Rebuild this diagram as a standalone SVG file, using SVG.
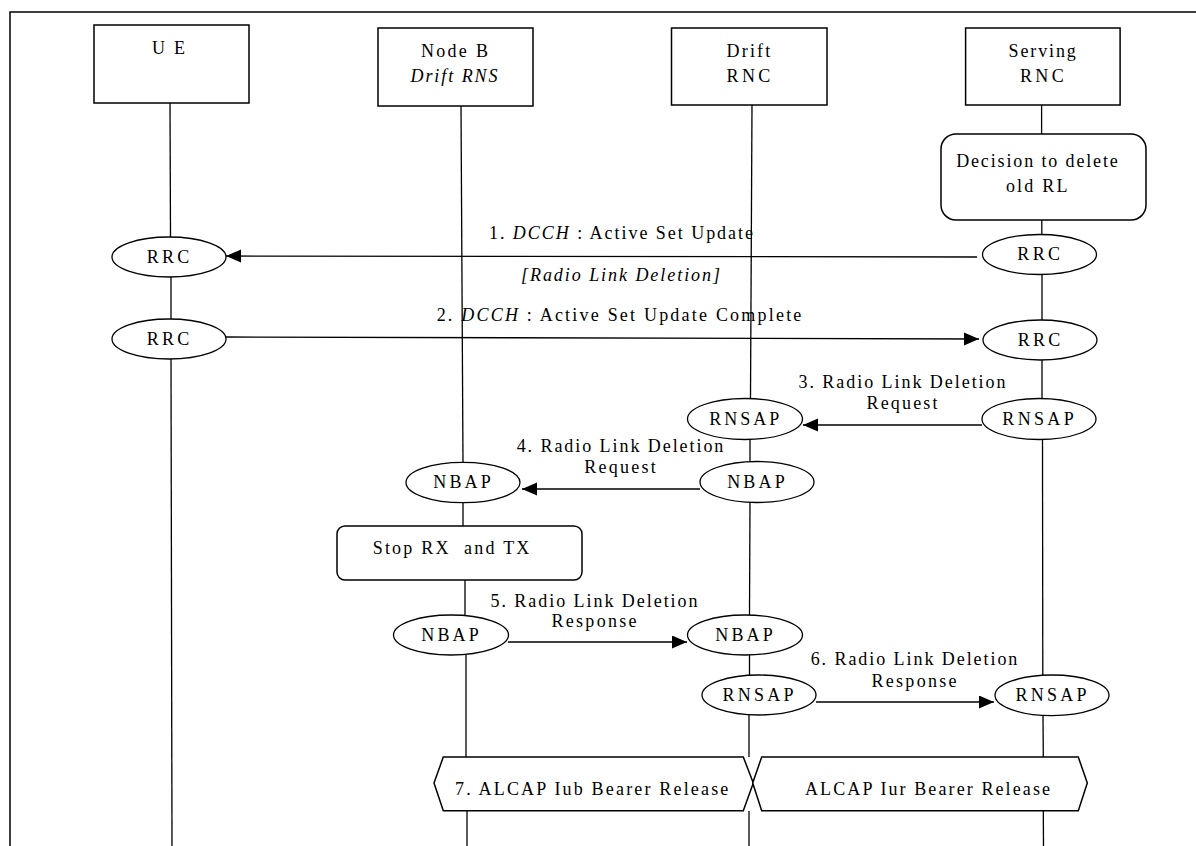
<svg xmlns="http://www.w3.org/2000/svg" width="1196" height="846" viewBox="0 0 1196 846">
<style>
  .bg { fill: #ffffff; }
  .box { fill: #ffffff; stroke: #000; stroke-width: 1.5; }
  .ell { fill: #ffffff; stroke: #000; stroke-width: 1.3; }
  .life { stroke: #000; stroke-width: 1.3; fill: none; }
  .msg { stroke: #000; stroke-width: 1.3; fill: none; marker-end: url(#ah); }
  .frame { stroke: #000; stroke-width: 1.5; fill: none; }
  text { font-family: "Liberation Serif", "Times New Roman", serif; font-size: 18px; fill: #000; text-anchor: middle; }
  .it { font-style: italic; }
</style>
<defs>
  <marker id="ah" markerUnits="userSpaceOnUse" markerWidth="16" markerHeight="14" refX="15" refY="6.5" orient="auto">
    <path d="M0,0 L15,6.5 L0,13 z" fill="#000"/>
  </marker>
</defs>
<rect class="bg" x="0" y="0" width="1196" height="846"/>
<polyline class="frame" points="10,846 10,12 1196,12"/>

<g id="lifelines">
  <line class="life" x1="170" y1="103" x2="170.5" y2="237"/>
  <line class="life" x1="171" y1="277" x2="171" y2="319"/>
  <line class="life" x1="171" y1="359" x2="172" y2="846"/>

  <line class="life" x1="461" y1="106" x2="463" y2="462"/>
  <line class="life" x1="463" y1="503" x2="463" y2="526"/>
  <line class="life" x1="465" y1="580" x2="465" y2="615"/>
  <line class="life" x1="466" y1="655" x2="466" y2="757"/>
  <line class="life" x1="467" y1="811" x2="467" y2="846"/>

  <line class="life" x1="752" y1="105" x2="750.5" y2="398"/>
  <line class="life" x1="750" y1="439" x2="750" y2="462"/>
  <line class="life" x1="750" y1="502" x2="749.5" y2="615"/>
  <line class="life" x1="749.5" y1="655" x2="749.5" y2="675"/>
  <line class="life" x1="749" y1="715" x2="749" y2="757"/>
  <line class="life" x1="749" y1="811" x2="749" y2="846"/>

  <line class="life" x1="1041.6" y1="105" x2="1041.6" y2="134"/>
  <line class="life" x1="1041.8" y1="220" x2="1041.8" y2="234.5"/>
  <line class="life" x1="1042" y1="274" x2="1042" y2="320"/>
  <line class="life" x1="1042" y1="360" x2="1042" y2="398.5"/>
  <line class="life" x1="1042.5" y1="439" x2="1042.8" y2="675"/>
  <line class="life" x1="1043" y1="715.5" x2="1043.3" y2="757"/>
  <line class="life" x1="1043.3" y1="811" x2="1043.5" y2="846"/>
</g>

<g id="connectors">
  <line class="msg" x1="977" y1="257" x2="226" y2="256"/>
  <line class="msg" x1="226" y1="337" x2="979" y2="339"/>
  <line class="msg" x1="982" y1="425" x2="803" y2="425"/>
  <line class="msg" x1="700" y1="489" x2="522" y2="489"/>
  <line class="msg" x1="508" y1="642" x2="687" y2="642"/>
  <line class="msg" x1="816" y1="702" x2="994" y2="702"/>
</g>

<g id="labels">
  <text x="621" y="239" textLength="264" lengthAdjust="spacing">1. <tspan class="it">DCCH</tspan> : Active Set Update</text>
  <text class="it" x="620.5" y="280.5" textLength="199" lengthAdjust="spacing">[Radio Link Deletion]</text>
  <text x="619" y="321" textLength="364.7" lengthAdjust="spacing">2. <tspan class="it">DCCH</tspan> : Active Set Update Complete</text>
  <text x="902" y="387.7" textLength="207" lengthAdjust="spacing">3. Radio Link Deletion</text>
  <text x="902" y="409.3" textLength="71" lengthAdjust="spacing">Request</text>
  <text x="620" y="452.3" textLength="206.7" lengthAdjust="spacing">4. Radio Link Deletion</text>
  <text x="620" y="473.3" textLength="71.3" lengthAdjust="spacing">Request</text>
  <text x="594" y="606.5" textLength="207" lengthAdjust="spacing">5. Radio Link Deletion</text>
  <text x="594" y="626.7" textLength="85" lengthAdjust="spacing">Response</text>
  <text x="914" y="665" textLength="206.7" lengthAdjust="spacing">6. Radio Link Deletion</text>
  <text x="914" y="686.7" textLength="85" lengthAdjust="spacing">Response</text>
</g>

<g id="ue">
  <rect class="box" x="94" y="25" width="155" height="78"/>
  <text x="168.4" y="54" textLength="33" lengthAdjust="spacing">UE</text>
</g>
<g id="nodeb">
  <rect class="box" x="378" y="28" width="155" height="78"/>
  <text x="454.4" y="57" textLength="67" lengthAdjust="spacing">Node B</text>
  <text class="it" x="454" y="82" textLength="87" lengthAdjust="spacing">Drift RNS</text>
</g>
<g id="drift-rnc">
  <rect class="box" x="671.5" y="28" width="155.5" height="77"/>
  <text x="748.4" y="57" textLength="43.7" lengthAdjust="spacing">Drift</text>
  <text x="748.4" y="82" textLength="43.7" lengthAdjust="spacing">RNC</text>
</g>
<g id="serving-rnc">
  <rect class="box" x="965.6" y="28" width="154.5" height="77"/>
  <text x="1042.2" y="57" textLength="67.3" lengthAdjust="spacing">Serving</text>
  <text x="1041.8" y="82" textLength="43.7" lengthAdjust="spacing">RNC</text>
</g>

<g id="decision">
  <rect class="box" x="941" y="134" width="205" height="86" rx="15" ry="15"/>
  <text x="1037" y="167" textLength="161.7" lengthAdjust="spacing">Decision to delete</text>
  <text x="1036.7" y="192" textLength="61.6" lengthAdjust="spacing">old RL</text>
</g>

<g id="ue-rrc-1">
  <ellipse class="ell" cx="169" cy="257" rx="57" ry="20"/>
  <text x="168" y="262.5" textLength="42.3" lengthAdjust="spacing">RRC</text>
</g>
<g id="ue-rrc-2">
  <ellipse class="ell" cx="169" cy="339" rx="57" ry="20"/>
  <text x="168" y="344.5" textLength="42.3" lengthAdjust="spacing">RRC</text>
</g>
<g id="srnc-rrc-1">
  <ellipse class="ell" cx="1039.5" cy="254.5" rx="57" ry="20"/>
  <text x="1038.7" y="260" textLength="42.7" lengthAdjust="spacing">RRC</text>
</g>
<g id="srnc-rrc-2">
  <ellipse class="ell" cx="1040" cy="340" rx="57" ry="20"/>
  <text x="1039" y="345.5" textLength="42.7" lengthAdjust="spacing">RRC</text>
</g>
<g id="srnc-rnsap-1">
  <ellipse class="ell" cx="1039" cy="419" rx="57" ry="20.5"/>
  <text x="1038" y="424.5" textLength="71.3" lengthAdjust="spacing">RNSAP</text>
</g>
<g id="drnc-rnsap-1">
  <ellipse class="ell" cx="745" cy="419" rx="57.5" ry="20.5"/>
  <text x="744.3" y="424.5" textLength="70" lengthAdjust="spacing">RNSAP</text>
</g>
<g id="drnc-nbap-1">
  <ellipse class="ell" cx="757" cy="482" rx="57" ry="20.5"/>
  <text x="756" y="487.5" textLength="57.7" lengthAdjust="spacing">NBAP</text>
</g>
<g id="nodeb-nbap-1">
  <ellipse class="ell" cx="463" cy="482.5" rx="57" ry="20.2"/>
  <text x="462" y="488" textLength="57.3" lengthAdjust="spacing">NBAP</text>
</g>
<g id="stop-rx-tx">
  <rect class="box" x="337" y="526" width="245" height="54" rx="8" ry="8"/>
  <text x="451" y="554.3" textLength="156.7" lengthAdjust="spacing" xml:space="preserve">Stop RX  and TX</text>
</g>
<g id="nodeb-nbap-2">
  <ellipse class="ell" cx="451" cy="635" rx="57.5" ry="20"/>
  <text x="450" y="640.5" textLength="57.3" lengthAdjust="spacing">NBAP</text>
</g>
<g id="drnc-nbap-2">
  <ellipse class="ell" cx="745" cy="635" rx="57.5" ry="20"/>
  <text x="744" y="640.5" textLength="57.3" lengthAdjust="spacing">NBAP</text>
</g>
<g id="drnc-rnsap-2">
  <ellipse class="ell" cx="759" cy="695" rx="57" ry="20"/>
  <text x="758" y="700.5" textLength="71" lengthAdjust="spacing">RNSAP</text>
</g>
<g id="srnc-rnsap-2">
  <ellipse class="ell" cx="1052" cy="695.3" rx="57" ry="20.3"/>
  <text x="1051" y="700.8" textLength="71" lengthAdjust="spacing">RNSAP</text>
</g>

<g id="alcap-iub">
  <polygon class="box" points="434,783 443.3,757 743.3,757 753.3,783 743.3,810.7 443.3,810.7"/>
  <text x="591.7" y="795" textLength="273.3" lengthAdjust="spacing">7. ALCAP Iub Bearer Release</text>
</g>
<g id="alcap-iur">
  <polygon class="box" points="752.7,783 761.7,757 1078.3,757 1087.3,783 1078.3,810.7 761.7,810.7"/>
  <text x="927.5" y="795" textLength="245" lengthAdjust="spacing">ALCAP Iur Bearer Release</text>
</g>
</svg>
